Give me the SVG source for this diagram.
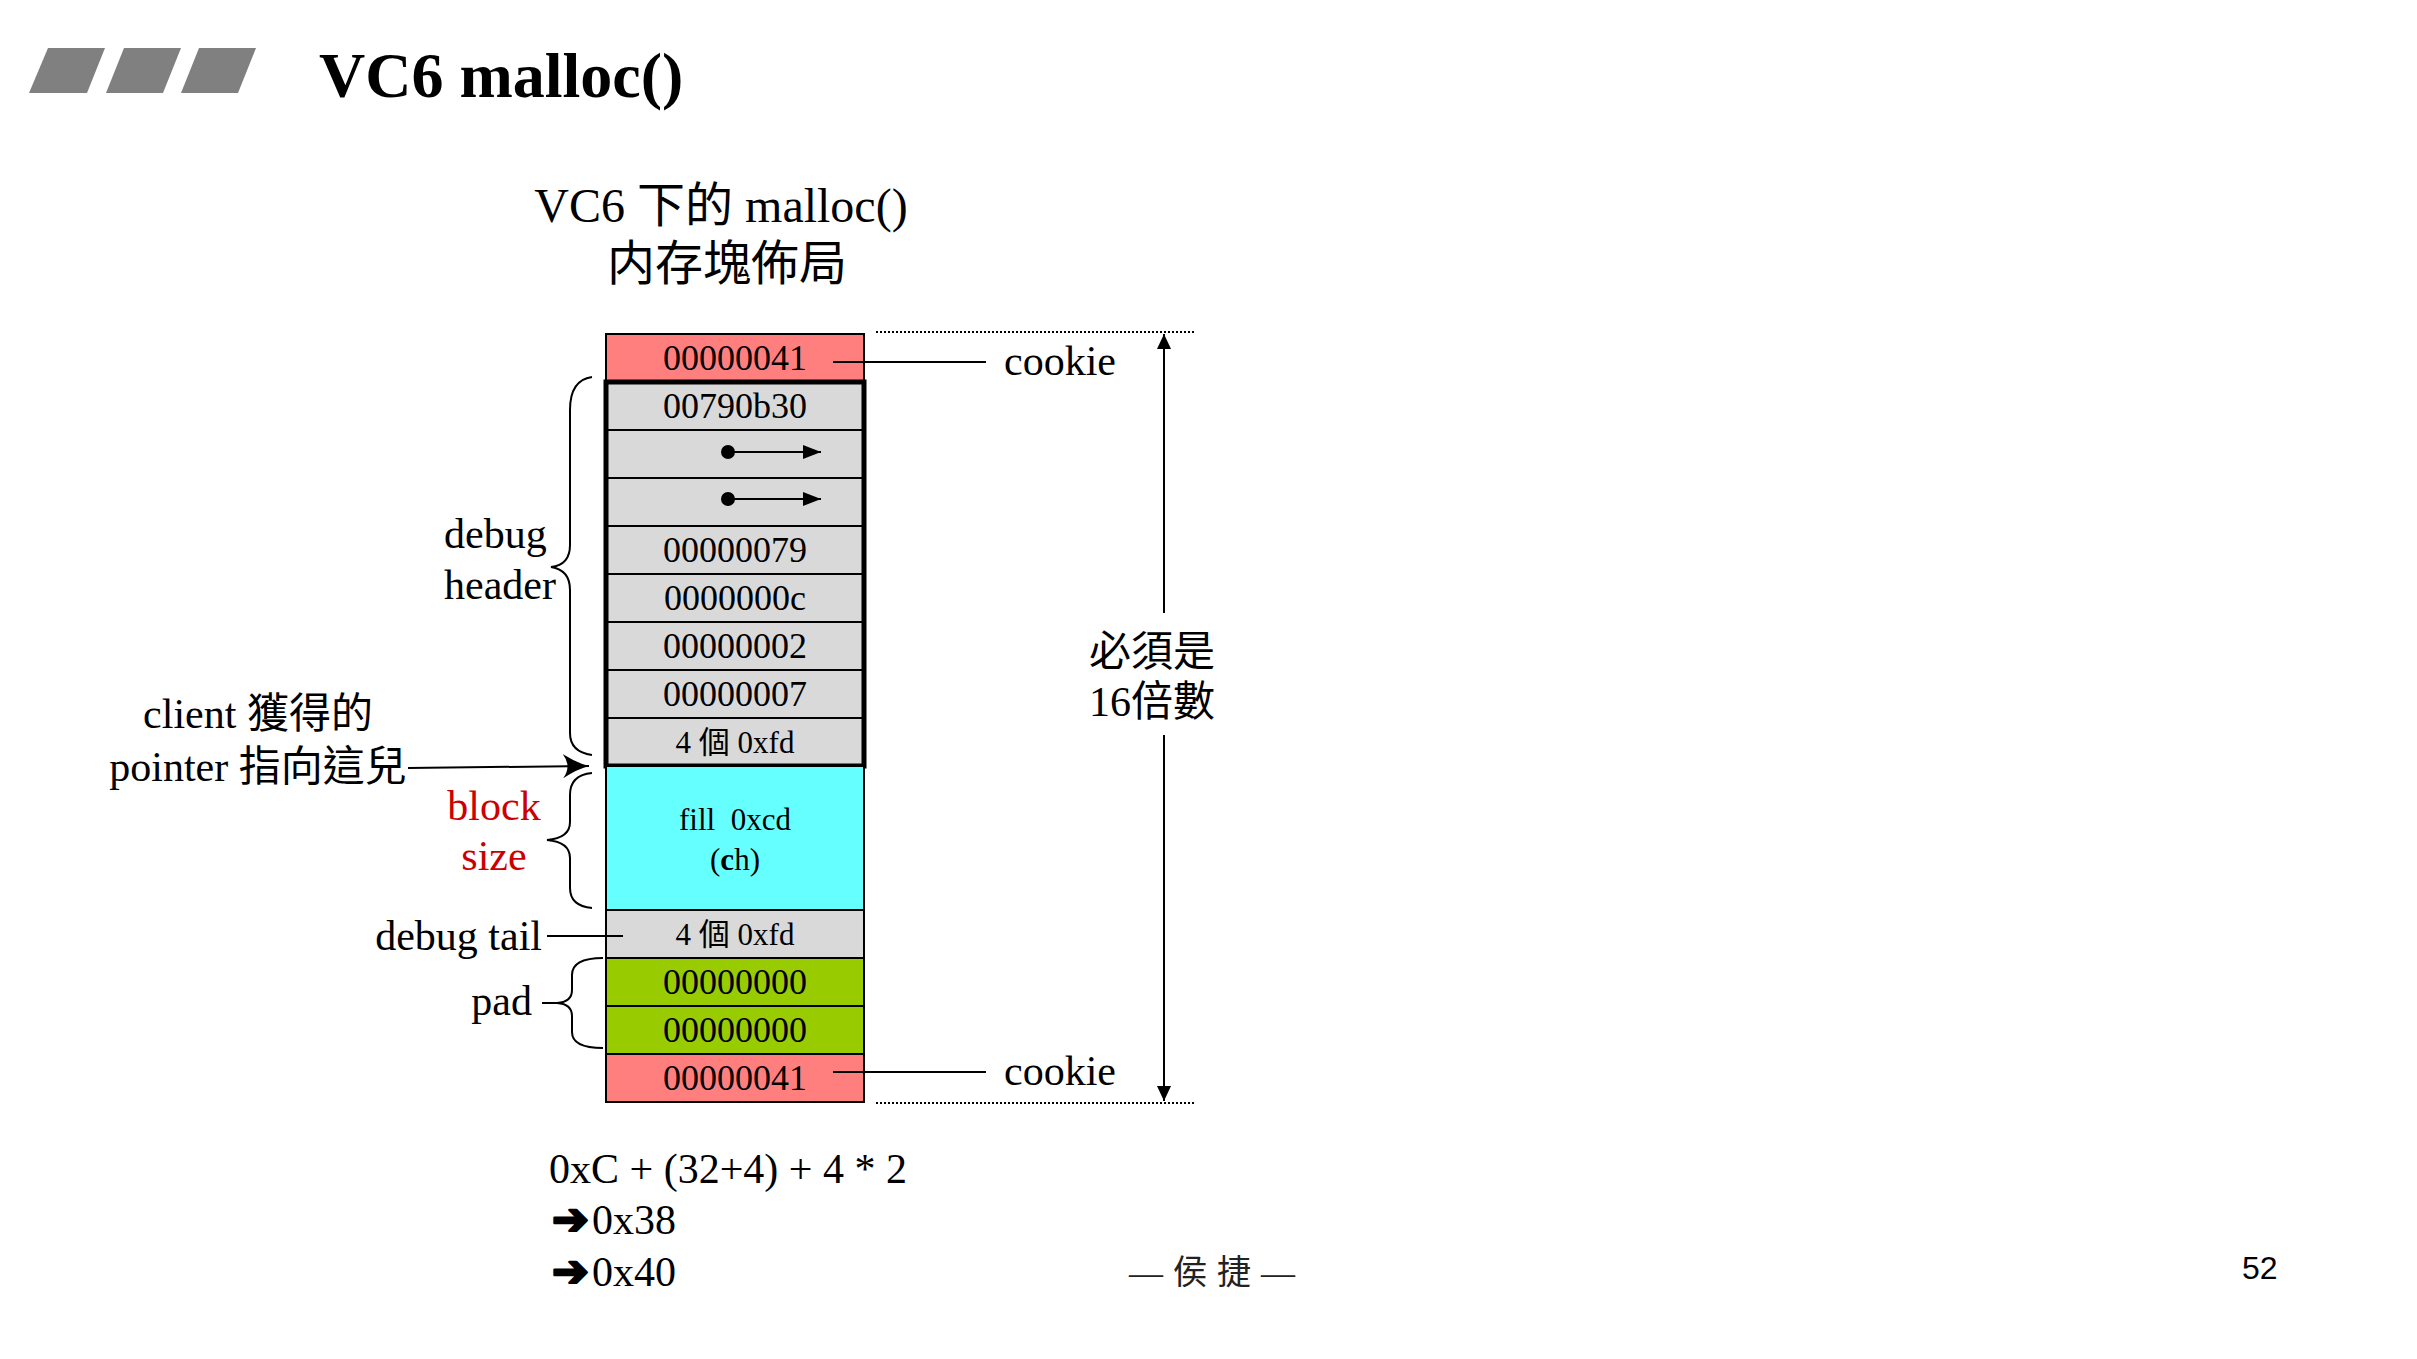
<svg xmlns="http://www.w3.org/2000/svg" width="2417" height="1359" viewBox="0 0 2417 1359">
<style>
.t{font-family:'Liberation Serif','Noto Sans CJK TC',serif;fill:#000}
.cell{font-size:36px;text-anchor:middle}
.sm{font-size:31px;text-anchor:middle}
.lbl{font-size:42px}
.mid{text-anchor:middle}
.end{text-anchor:end}
.sym{font-family:'DejaVu Sans',sans-serif;font-weight:bold;font-size:44px;fill:#000;stroke:#000;stroke-width:2.5;stroke-linejoin:round}
.row{stroke:#000;stroke-width:2}
.gray{fill:#D9D9D9}
.pink{fill:#FF7F7F}
.green{fill:#99CC00}
.cyan{fill:#66FFFF}
.ln{stroke:#000;stroke-width:2;fill:none}
.dot{stroke:#000;stroke-width:2;stroke-dasharray:2 2;fill:none}
</style>
<defs>
<marker id="tri" markerUnits="userSpaceOnUse" markerWidth="16" markerHeight="14" refX="15" refY="7" orient="auto"><path d="M0,0 L15,7 L0,14 z" fill="#000"/></marker>
<marker id="tri2" markerUnits="userSpaceOnUse" markerWidth="19" markerHeight="15" refX="18" refY="7" orient="auto"><path d="M0,0 L18,7 L0,14 z" fill="#000"/></marker>
<marker id="stealth" markerUnits="userSpaceOnUse" markerWidth="27" markerHeight="24" refX="26" refY="12" orient="auto"><path d="M0,0 Q14,9 26,12 Q14,15 0,24 Q9,12 0,0 z" fill="#000"/></marker>
</defs>
<rect width="2417" height="1359" fill="#fff"/>

<g id="title">
<polygon points="48,48 105,48 87,93 29,93" fill="#808080"/>
<polygon points="124,48 181,48 163,93 106,93" fill="#808080"/>
<polygon points="199,48 256,48 238,93 181,93" fill="#808080"/>
<text class="t" x="319" y="97" font-size="64" font-weight="bold">VC6 malloc()</text>
</g>

<g id="subtitle">
<text class="t mid" x="721" y="222" font-size="48">VC6 下的 malloc()</text>
<text class="t mid" x="727" y="280" font-size="48">内存塊佈局</text>
</g>

<g id="cookie-top">
<rect class="row pink" x="606" y="334" width="258" height="48"/>
<text class="t cell" x="735" y="370">00000041</text>
</g>

<g id="debug-header">
<rect class="row gray" x="606" y="382" width="258" height="48"/>
<text class="t cell" x="735" y="418">00790b30</text>
<rect class="row gray" x="606" y="430" width="258" height="48"/>
<rect class="row gray" x="606" y="478" width="258" height="48"/>
<rect class="row gray" x="606" y="526" width="258" height="48"/>
<text class="t cell" x="735" y="562">00000079</text>
<rect class="row gray" x="606" y="574" width="258" height="48"/>
<text class="t cell" x="735" y="610">0000000c</text>
<rect class="row gray" x="606" y="622" width="258" height="48"/>
<text class="t cell" x="735" y="658">00000002</text>
<rect class="row gray" x="606" y="670" width="258" height="48"/>
<text class="t cell" x="735" y="706">00000007</text>
<rect class="row gray" x="606" y="718" width="258" height="48"/>
<text class="t sm" x="735" y="753">4 個 0xfd</text>
<rect x="606" y="382" width="258" height="384" fill="none" stroke="#000" stroke-width="5"/>
</g>

<g id="user-data">
<rect class="row cyan" x="606" y="766" width="258" height="144"/>
<text class="t sm" x="735" y="830" xml:space="preserve">fill  0xcd</text>
<text class="t sm" x="735" y="870">(<tspan font-weight="bold">c</tspan>h)</text>
</g>

<g id="debug-tail">
<rect class="row gray" x="606" y="910" width="258" height="48"/>
<text class="t sm" x="735" y="945">4 個 0xfd</text>
</g>

<g id="pad">
<rect class="row green" x="606" y="958" width="258" height="48"/>
<text class="t cell" x="735" y="994">00000000</text>
<rect class="row green" x="606" y="1006" width="258" height="48"/>
<text class="t cell" x="735" y="1042">00000000</text>
</g>

<g id="cookie-bottom">
<rect class="row pink" x="606" y="1054" width="258" height="48"/>
<text class="t cell" x="735" y="1090">00000041</text>
</g>

<g id="connectors">
<circle cx="728" cy="452" r="7" fill="#000"/>
<line class="ln" x1="728" y1="452" x2="821" y2="452" marker-end="url(#tri2)"/>
<circle cx="728" cy="499" r="7" fill="#000"/>
<line class="ln" x1="728" y1="499" x2="821" y2="499" marker-end="url(#tri2)"/>
<line class="ln" x1="833" y1="362" x2="986" y2="362"/>
<line class="ln" x1="833" y1="1072" x2="986" y2="1072"/>
<line class="dot" x1="876" y1="332" x2="1194" y2="332"/>
<line class="dot" x1="876" y1="1103" x2="1194" y2="1103"/>
<line class="ln" x1="1164" y1="613" x2="1164" y2="334" marker-end="url(#tri)"/>
<line class="ln" x1="1164" y1="735" x2="1164" y2="1101" marker-end="url(#tri)"/>
<path class="ln" d="M592,377 Q570,380 570,410 L570,545 Q570,565 551,567 Q570,570 570,590 L570,733 Q570,752 592,755"/>
<path class="ln" d="M592,773 Q570,775 570,795 L570,822 Q570,838 547,840 Q570,842 570,858 L570,888 Q570,906 592,908"/>
<path class="ln" d="M603,958 Q572,958 572,975 L572,990 Q572,1002 557,1003 L542,1003 M557,1003 Q572,1004 572,1016 L572,1032 Q572,1048 603,1048"/>
<line class="ln" x1="547" y1="936" x2="623" y2="936"/>
<line class="ln" x1="408" y1="768" x2="589" y2="766" marker-end="url(#stealth)"/>
</g>

<g id="labels">
<text class="t lbl" x="1004" y="375" font-size="40">cookie</text>
<text class="t lbl" x="1004" y="1085" font-size="40">cookie</text>
<text class="t lbl mid" x="1152" y="666">必須是</text>
<text class="t lbl mid" x="1152" y="716">16倍數</text>
<text class="t lbl" x="444" y="548">debug</text>
<text class="t lbl" x="444" y="599">header</text>
<text class="t lbl mid" x="258" y="728">client 獲得的</text>
<text class="t lbl mid" x="258" y="781">pointer 指向這兒</text>
<text class="t lbl mid" x="494" y="820" style="fill:#CC0000">block</text>
<text class="t lbl mid" x="494" y="870" style="fill:#CC0000">size</text>
<text class="t lbl end" x="542" y="950">debug tail</text>
<text class="t lbl end" x="532" y="1015">pad</text>
</g>

<g id="formula">
<text class="t lbl" x="549" y="1183">0xC + (32+4) + 4 * 2</text>
<text class="sym" x="552" y="1234">➔</text>
<text class="t lbl" x="592" y="1234">0x38</text>
<text class="sym" x="552" y="1286">➔</text>
<text class="t lbl" x="592" y="1286">0x40</text>
</g>

<g id="footer">
<text class="t" x="1129" y="1284" font-size="34" letter-spacing="10" style="fill:#222">—侯捷—</text>
<text x="2242" y="1279" font-family="'Liberation Sans',Arial,sans-serif" font-size="32" fill="#000">52</text>
</g>
</svg>
